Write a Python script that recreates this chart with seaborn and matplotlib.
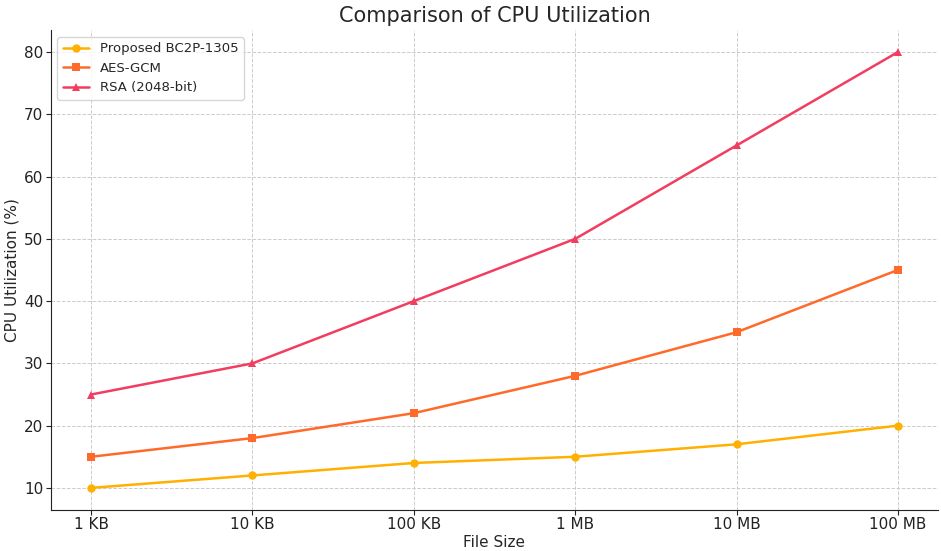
import matplotlib
matplotlib.use("Agg")
import matplotlib.pyplot as plt
import seaborn as sns
import pandas as pd

file_sizes = ['1 KB', '10 KB', '100 KB', '1 MB', '10 MB', '100 MB']
bc2p = [10, 12, 14, 15, 17, 20]
aes_gcm = [15, 18, 22, 28, 35, 45]
rsa = [25, 30, 40, 50, 65, 80]

df = pd.DataFrame({
    'File Size': file_sizes * 3,
    'CPU': bc2p + aes_gcm + rsa,
    'Method': ['Proposed BC2P-1305'] * 6 + ['AES-GCM'] * 6 + ['RSA (2048-bit)'] * 6,
})
df['pos'] = list(range(6)) * 3

sns.set_style('ticks')
plt.rcParams['font.family'] = ['DejaVu Sans']

fig, ax = plt.subplots(figsize=(9.41, 5.51), dpi=100)
palette = {'Proposed BC2P-1305': '#FFB000', 'AES-GCM': '#FF6A2A', 'RSA (2048-bit)': '#F23D60'}
markers = {'Proposed BC2P-1305': 'o', 'AES-GCM': 's', 'RSA (2048-bit)': '^'}
sns.lineplot(data=df, x='pos', y='CPU', hue='Method', style='Method',
             palette=palette, markers=markers, dashes=False, linewidth=1.8,
             markersize=6, markeredgewidth=0, ax=ax)

ax.set_xticks(range(6))
ax.set_xticklabels(file_sizes, fontsize=11)
ax.tick_params(axis='both', labelsize=11, pad=2, colors='#222222')
ax.set_xlim(-0.25, 5.25)
ax.set_xlabel('File Size', fontsize=11, labelpad=2)
ax.set_ylabel('CPU Utilization (%)', fontsize=11, labelpad=3)
ax.set_title('Comparison of CPU Utilization', fontsize=15)
ax.grid(True, linestyle='--', color='#cccccc', linewidth=0.7)
sns.despine(ax=ax)
for s in ['left', 'bottom']:
    ax.spines[s].set_color('#222222')
ax.legend(loc='upper left', fontsize=9.5, frameon=True)

fig.subplots_adjust(left=0.054, right=0.997, top=0.945, bottom=0.075)
fig.savefig('out.png', dpi=100)
